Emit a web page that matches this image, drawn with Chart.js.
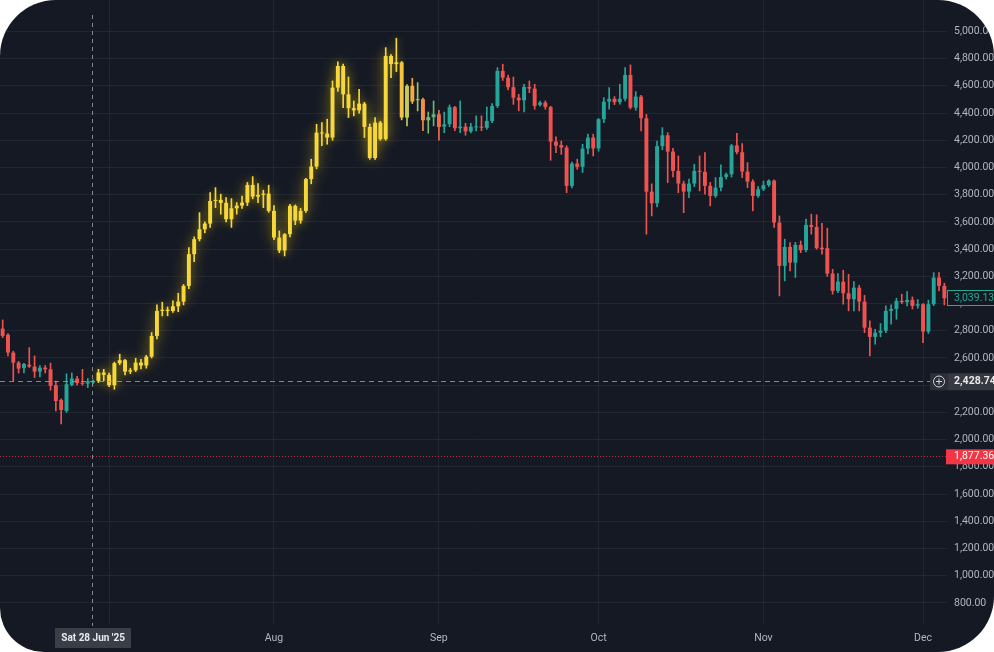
<!DOCTYPE html>
<html>
<head>
<meta charset="utf-8">
<script src="https://cdn.jsdelivr.net/npm/chart.js@4.4.1/dist/chart.umd.min.js"></script>
<style>
html,body{margin:0;padding:0;background:#ffffff;width:994px;height:652px;overflow:hidden;}
#wrap{position:absolute;left:0;top:0;width:994px;height:652px;background:#151924;border-radius:56px 56px 56px 44px;overflow:hidden;}
canvas{display:block;}
</style>
</head>
<body>
<div id="wrap"><canvas id="c" width="994" height="652"></canvas></div>
<script>
// ---------- DATA (daily candles) ----------
const dates = [
'Jun 11','Jun 12','Jun 13','Jun 14','Jun 15','Jun 16','Jun 17','Jun 18','Jun 19','Jun 20',
'Jun 21','Jun 22','Jun 23','Jun 24','Jun 25','Jun 26','Jun 27','Jun 28','Jun 29','Jun 30',
'Jul 1','Jul 2','Jul 3','Jul 4','Jul 5','Jul 6','Jul 7','Jul 8','Jul 9','Jul 10',
'Jul 11','Jul 12','Jul 13','Jul 14','Jul 15','Jul 16','Jul 17','Jul 18','Jul 19','Jul 20',
'Jul 21','Jul 22','Jul 23','Jul 24','Jul 25','Jul 26','Jul 27','Jul 28','Jul 29','Jul 30','Jul 31',
'Aug 1','Aug 2','Aug 3','Aug 4','Aug 5','Aug 6','Aug 7','Aug 8','Aug 9','Aug 10',
'Aug 11','Aug 12','Aug 13','Aug 14','Aug 15','Aug 16','Aug 17','Aug 18','Aug 19','Aug 20',
'Aug 21','Aug 22','Aug 23','Aug 24','Aug 25','Aug 26','Aug 27','Aug 28','Aug 29','Aug 30','Aug 31',
'Sep 1','Sep 2','Sep 3','Sep 4','Sep 5','Sep 6','Sep 7','Sep 8','Sep 9','Sep 10',
'Sep 11','Sep 12','Sep 13','Sep 14','Sep 15','Sep 16','Sep 17','Sep 18','Sep 19','Sep 20',
'Sep 21','Sep 22','Sep 23','Sep 24','Sep 25','Sep 26','Sep 27','Sep 28','Sep 29','Sep 30',
'Oct 1','Oct 2','Oct 3','Oct 4','Oct 5','Oct 6','Oct 7','Oct 8','Oct 9','Oct 10',
'Oct 11','Oct 12','Oct 13','Oct 14','Oct 15','Oct 16','Oct 17','Oct 18','Oct 19','Oct 20',
'Oct 21','Oct 22','Oct 23','Oct 24','Oct 25','Oct 26','Oct 27','Oct 28','Oct 29','Oct 30','Oct 31',
'Nov 1','Nov 2','Nov 3','Nov 4','Nov 5','Nov 6','Nov 7','Nov 8','Nov 9','Nov 10',
'Nov 11','Nov 12','Nov 13','Nov 14','Nov 15','Nov 16','Nov 17','Nov 18','Nov 19','Nov 20',
'Nov 21','Nov 22','Nov 23','Nov 24','Nov 25','Nov 26','Nov 27','Nov 28','Nov 29','Nov 30',
'Dec 1','Dec 2','Dec 3','Dec 4','Dec 5'
];
const opens = [
2816,2770,2640,2566,2527,2550,2537,2500,2529,2517,
2400,2292,2211,2402,2449,2418,2412,2420,2432,2493,
2476,2400,2562,2584,2500,2510,2566,2545,2610,2762,
2946,2955,2945,2980,3014,3130,3363,3473,3546,3588,
3754,3762,3740,3620,3700,3720,3742,3872,3786,3799,3808,
3681,3485,3390,3510,3718,3610,3681,3915,4007,4256,
4250,4220,4587,4746,4538,4436,4420,4469,4298,4070,
4330,4208,4820,4760,4773,4367,4600,4494,4502,4347,4370,
4391,4300,4318,4444,4289,4300,4265,4295,4300,4292,
4342,4452,4710,4660,4590,4513,4494,4592,4580,4460,
4477,4445,4190,4165,4146,3865,4029,4005,4139,4220,
4140,4355,4484,4505,4480,4505,4680,4440,4521,4362,
3823,3737,4157,4237,4117,3975,3882,3823,3882,3975,
3968,3865,3791,3852,3931,3950,4162,4112,3970,3896,3791,
3840,3870,3904,3595,3277,3416,3301,3431,3392,3578,
3563,3411,3407,3220,3093,3161,3076,3032,3117,3014,
2823,2755,2786,2800,2946,2960,3020,3010,3027,2985,
2995,2794,2995,3191,3130
];
const highs = [
2880,2780,2650,2575,2560,2676,2615,2545,2545,2562,
2430,2300,2483,2490,2465,2517,2449,2440,2517,2517,
2490,2570,2628,2590,2525,2598,2590,2620,2787,2990,
3010,2975,3020,3076,3140,3411,3490,3668,3600,3815,
3852,3804,3779,3771,3742,3790,3890,3933,3882,3833,3870,
3720,3534,3515,3730,3725,3700,3920,4061,4318,4330,
4355,4636,4777,4760,4665,4489,4575,4480,4320,4367,
4340,4881,4830,4950,4780,4610,4656,4624,4510,4408,4489,
4420,4408,4460,4450,4489,4325,4325,4379,4380,4445,
4470,4734,4759,4680,4665,4538,4612,4636,4612,4489,
4489,4450,4225,4195,4160,4040,4061,4171,4245,4245,
4360,4513,4587,4521,4612,4734,4754,4558,4530,4390,
3880,4195,4293,4256,4140,4085,3900,3914,4024,4085,
4110,3890,3926,4019,3960,4170,4252,4176,4036,3910,3860,
3900,3910,3910,3644,3473,3448,3450,3460,3620,3657,
3652,3590,3554,3252,3220,3245,3215,3161,3135,3060,
2873,2811,2853,2983,2990,3039,3069,3088,3049,3030,
3000,3025,3227,3227,3150
];
const lows = [
2750,2615,2431,2490,2490,2530,2456,2460,2490,2363,
2211,2115,2200,2395,2400,2400,2382,2410,2420,2432,
2390,2370,2550,2476,2485,2500,2520,2525,2600,2740,
2909,2910,2935,2940,2990,3110,3308,3460,3520,3560,
3705,3657,3600,3560,3657,3700,3720,3770,3742,3705,3670,
3470,3374,3350,3490,3580,3590,3670,3880,3990,4160,
4171,4200,4560,4440,4367,4380,4400,4220,4060,4060,
4200,4200,4660,4705,4350,4306,4470,4416,4270,4252,4306,
4200,4256,4300,4270,4256,4237,4255,4269,4270,4281,
4330,4440,4640,4570,4464,4416,4408,4550,4428,4450,
4428,4053,4109,4097,3815,3850,3987,3963,4100,4085,
4120,4330,4428,4462,4465,4490,4430,4420,4269,3510,
3644,3710,4130,3889,3930,3815,3668,3779,3860,3828,
3804,3718,3780,3828,3915,3930,4100,3926,3852,3681,3780,
3830,3860,3560,3056,3167,3240,3191,3374,3380,3510,
3400,3363,3200,3069,3080,2995,2946,2946,2946,2786,
2615,2701,2755,2786,2848,2885,3000,2983,2960,2965,
2713,2780,2985,3093,2990
];
const closes = [
2762,2640,2566,2522,2556,2537,2500,2529,2517,2395,
2284,2218,2407,2449,2415,2410,2428,2432,2493,2476,
2400,2562,2584,2500,2510,2566,2545,2610,2762,2946,
2955,2945,2980,3014,3130,3363,3473,3546,3588,3754,
3762,3740,3620,3700,3720,3742,3872,3786,3799,3808,3681,
3485,3390,3510,3718,3610,3681,3915,4007,4256,4250,
4220,4587,4746,4538,4436,4420,4469,4298,4070,4330,
4208,4820,4760,4773,4367,4600,4484,4502,4347,4370,4391,
4298,4318,4444,4289,4300,4265,4300,4300,4292,4342,
4452,4710,4660,4590,4513,4494,4592,4580,4452,4477,
4445,4190,4160,4146,3865,4029,4005,4139,4220,4140,
4355,4484,4505,4480,4505,4680,4440,4521,4362,3823,
3737,4157,4237,4117,3975,3882,3823,3882,3975,3968,
3865,3791,3852,3931,3950,4162,4112,3970,3896,3791,3840,
3870,3904,3595,3277,3416,3301,3431,3392,3578,3563,
3407,3400,3220,3093,3161,3076,3032,3117,3014,2823,
2755,2786,2800,2946,2960,3020,3010,3027,2983,2995,
2794,2995,3191,3130,3039.13
];
// axis tick labels
const yTickValues = [800,1000,1200,1400,1600,1800,2000,2200,2400,2600,2800,3000,3200,3400,3600,3800,4000,4200,4400,4600,4800,5000];
const monthTickLabels = {'Jul 1':'', 'Aug 1':'Aug', 'Sep 1':'Sep', 'Oct 1':'Oct', 'Nov 1':'Nov', 'Dec 1':'Dec'};
// price markers
const lastPrice = 3039.13;
const crossPrice = 2428.74;
const alertPrice = 1877.36;
const crossDate = 'Jun 28';
const crossDateLabel = "Sat 28 Jun '25";
// highlighted (yellow) stretch
const highlightFrom = 'Jun 29', highlightTo = 'Aug 24';
const fadeWeights = [0.85,0.75,0.65,0.55,0.45,0.38,0.3,0.2];

// ---------- STYLE ----------
const UP = '#26a69a', DOWN = '#ef5350', YEL = '#f6d83c';
const GRID = 'rgba(42,46,57,0.6)';
const TXT = '#b2b5be';
const FONT = 'Roboto, "Liberation Sans", sans-serif';

function rgb(h){h=h.replace('#','');return [parseInt(h.substr(0,2),16),parseInt(h.substr(2,2),16),parseInt(h.substr(4,2),16)];}
function mix(a,b,t){const A=rgb(a),B=rgb(b);return 'rgb('+A.map((v,k)=>Math.round(v*(1-t)+B[k]*t)).join(',')+')';}
const hs = dates.indexOf(highlightFrom), he = dates.indexOf(highlightTo);
function weight(i){ if(i>=hs && i<=he) return 1; const k=i-he-1; if(k>=0 && k<fadeWeights.length) return fadeWeights[k]; return 0; }
function colorOf(i){ const base = closes[i]>=opens[i]?UP:DOWN; const w=weight(i); return w>0?mix(base,YEL,w):base; }
const colors = dates.map((d,i)=>colorOf(i));

const normBodies = dates.map((d,i)=> weight(i)<1 ? [opens[i], closes[i]] : null);
const normWicks  = dates.map((d,i)=> weight(i)<1 ? [lows[i], highs[i]] : null);
const hlBodies   = dates.map((d,i)=> weight(i)===1 ? [opens[i], closes[i]] : null);
const hlWicks    = dates.map((d,i)=> weight(i)===1 ? [lows[i], highs[i]] : null);

const bodyCommon = {grouped:false, barPercentage:0.74, categoryPercentage:1, borderWidth:0, borderSkipped:false, minBarLength:1, backgroundColor:colors, order:1};
const wickCommon = {grouped:false, barThickness:1, borderWidth:0, borderSkipped:false, minBarLength:1, backgroundColor:colors, order:2};

const glowPlugin = {
  id:'glow',
  beforeDatasetDraw(chart,args){ const ds=chart.data.datasets[args.index]; if(ds.glow){ const ctx=chart.ctx; ctx.save(); ctx.shadowColor=ds.glow; ctx.shadowBlur=ds.glowBlur||12; } },
  afterDatasetDraw(chart,args){ const ds=chart.data.datasets[args.index]; if(ds.glow){ chart.ctx.restore(); } }
};

function fmt(v){ return v.toLocaleString('en-US',{minimumFractionDigits:2, maximumFractionDigits:2}); }

const overlay = {
  id:'overlay',
  afterDatasetsDraw(chart){
    const {ctx, chartArea:a, scales:{x,y}} = chart;
    ctx.save();
    ctx.lineWidth = 1;
    // alert line (dotted red)
    const ya = Math.round(y.getPixelForValue(alertPrice))+0.5;
    ctx.strokeStyle = 'rgba(242,54,69,0.75)'; ctx.setLineDash([1,2]);
    ctx.beginPath(); ctx.moveTo(a.left,ya); ctx.lineTo(a.right,ya); ctx.stroke();
    // crosshair
    ctx.strokeStyle = 'rgba(150,153,162,0.85)';
    const yc = Math.round(y.getPixelForValue(crossPrice))+0.5;
    ctx.setLineDash([5,4]);
    ctx.beginPath(); ctx.moveTo(a.left,yc); ctx.lineTo(a.right-17,yc); ctx.stroke();
    const xc = Math.round(x.getPixelForValue(dates.indexOf(crossDate)))-0.5;
    ctx.setLineDash([4,4]);
    ctx.beginPath(); ctx.moveTo(xc,15); ctx.lineTo(xc,a.bottom+2); ctx.stroke();
    ctx.restore();
  },
  afterDraw(chart){
    const {ctx, chartArea:a, scales:{x,y}} = chart;
    ctx.save();
    ctx.textBaseline='middle'; ctx.textAlign='left';
    ctx.font = '10.5px '+FONT;
    // last price label
    const yl = y.getPixelForValue(lastPrice);
    ctx.fillStyle='#151924'; ctx.fillRect(a.right,yl-8,50,16);
    ctx.strokeStyle='#22ab94'; ctx.lineWidth=1; ctx.strokeRect(a.right+0.5,Math.round(yl-8)+0.5,49,15);
    ctx.fillStyle='#22ab94'; ctx.fillText(fmt(lastPrice), a.right+7, yl);
    // alert price label
    const ya = y.getPixelForValue(alertPrice);
    ctx.fillStyle='#f23645'; ctx.fillRect(a.right-1,ya-7,52,15);
    ctx.fillStyle='#ffffff'; ctx.fillText(fmt(alertPrice), a.right+7, ya+0.5);
    // crosshair price label
    const yc = y.getPixelForValue(crossPrice);
    ctx.fillStyle='#363a40'; ctx.fillRect(a.right+1,yc-8,50,17);
    ctx.fillStyle='#2c3036'; ctx.fillRect(a.right-17,yc-8,18,17);
    ctx.strokeStyle='#d1d4dc'; ctx.lineWidth=1;
    const cx=a.right-8, cy=Math.round(yc)+0.5;
    ctx.beginPath(); ctx.arc(cx,cy,5.5,0,Math.PI*2); ctx.stroke();
    ctx.beginPath(); ctx.moveTo(cx-3,cy); ctx.lineTo(cx+3,cy); ctx.moveTo(cx,cy-3); ctx.lineTo(cx,cy+3); ctx.stroke();
    ctx.fillStyle='#e8e9ec'; ctx.font='bold 10.5px '+FONT;
    ctx.fillText(fmt(crossPrice), a.right+7, yc+0.5);
    // crosshair date label
    const xc = x.getPixelForValue(dates.indexOf(crossDate));
    ctx.font='bold 10px '+FONT;
    const w = ctx.measureText(crossDateLabel).width + 12;
    ctx.fillStyle='#3a3e46'; ctx.fillRect(Math.round(xc-w/2), a.bottom+4, Math.round(w), 20);
    ctx.fillStyle='#e8e9ec'; ctx.textAlign='center';
    ctx.fillText(crossDateLabel, xc, a.bottom+14.5);
    ctx.restore();
  }
};

new Chart(document.getElementById('c'), {
  type:'bar',
  data:{
    labels: dates,
    datasets:[
      Object.assign({label:'hlBodies', data:hlBodies, glow:'rgba(250,215,50,0.6)', glowBlur:15}, bodyCommon, {order:1}),
      Object.assign({label:'bodies', data:normBodies}, bodyCommon, {order:1}),
      Object.assign({label:'hlWicks', data:hlWicks, glow:'rgba(250,215,50,0.45)', glowBlur:9}, wickCommon, {order:2}),
      Object.assign({label:'wicks', data:normWicks}, wickCommon, {order:2})
    ]
  },
  options:{
    responsive:false, animation:false, devicePixelRatio:1,
    layout:{padding:0},
    plugins:{legend:{display:false}, tooltip:{enabled:false}},
    scales:{
      x:{
        type:'category', offset:true,
        grid:{offset:false, drawTicks:false, color:(c)=> (c.tick && monthTickLabels.hasOwnProperty(dates[c.index])) ? GRID : 'rgba(0,0,0,0)'},
        border:{display:false},
        ticks:{autoSkip:false, maxRotation:0, minRotation:0, padding:8, color:TXT, font:{size:10.5, family:FONT},
          callback:(v,i)=> monthTickLabels.hasOwnProperty(dates[i]) ? monthTickLabels[dates[i]] : ''},
        afterFit:(s)=>{ s.height=28; s.paddingLeft=0; s.paddingRight=0; }
      },
      y:{
        position:'right', min:645, max:5231,
        afterBuildTicks:(s)=>{ s.ticks = yTickValues.map(v=>({value:v})); },
        grid:{color:GRID, drawTicks:false},
        border:{display:false},
        ticks:{color:TXT, padding:7, font:{size:10.5, family:FONT}, callback:(v)=>fmt(v)},
        afterFit:(s)=>{ s.width=47; s.paddingTop=0; s.paddingBottom=0; }
      }
    }
  },
  plugins:[glowPlugin, overlay]
});
</script>
</body>
</html>
